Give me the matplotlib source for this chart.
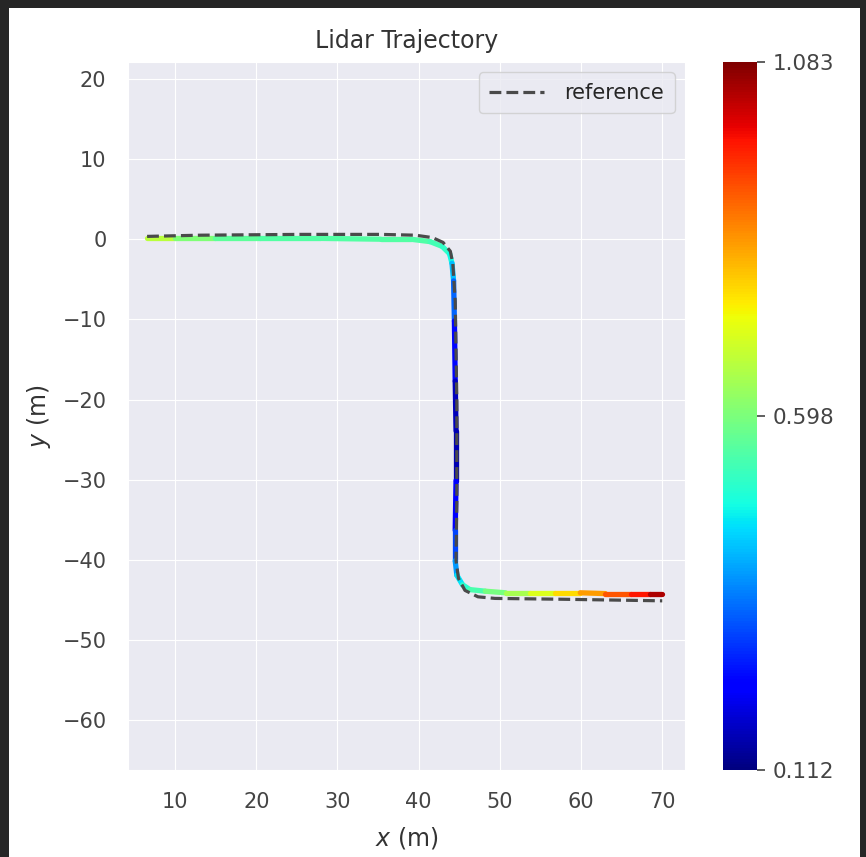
import numpy as np
import matplotlib
matplotlib.use('Agg')
import matplotlib.pyplot as plt
import seaborn as sns
from matplotlib.collections import LineCollection
from matplotlib.patches import Rectangle

# lidar trajectory (coloured by error)
traj_x = [6.55, 10.0, 14.9, 20.5, 27.9, 35.3, 39.0, 41.4, 42.9, 43.8, 44.1, 44.3,
          44.4, 44.5, 44.6, 44.6, 44.5, 44.5, 44.7, 45.4, 46.3, 48.2, 50.7, 53.7,
          56.8, 59.9, 63.0, 66.1, 68.5, 70.0]
traj_y = [0.1, 0.1, 0.1, 0.1, 0.1, 0.0, 0.0, -0.3, -0.9, -1.8, -3.0, -5.2,
          -10.2, -17.7, -23.9, -30.1, -36.3, -40.1, -41.9, -43.1, -43.7, -43.9, -44.1, -44.1,
          -44.1, -44.1, -44.2, -44.2, -44.2, -44.2]
traj_err = [0.70, 0.64, 0.57, 0.55, 0.55, 0.55, 0.55, 0.54, 0.52, 0.50, 0.45, 0.38,
            0.28, 0.20, 0.13, 0.18, 0.26, 0.34, 0.42, 0.48, 0.52, 0.56, 0.62, 0.68,
            0.74, 0.80, 0.87, 0.94, 1.00, 1.083]

# reference path
ref_x = [6.55, 13.1, 25.4, 35.3, 39.6, 41.7, 43.0, 43.9, 44.2, 44.5, 44.7, 44.7,
         44.6, 44.9, 45.7, 47.3, 49.4, 57.4, 70.0]
ref_y = [0.35, 0.5, 0.6, 0.6, 0.5, 0.2, -0.4, -1.5, -3.0, -7.7, -20.2, -32.6,
         -40.1, -42.3, -43.8, -44.6, -44.8, -44.9, -45.1]

err_min, err_max = 0.112, 1.083

sns.set_style('darkgrid')
plt.rcParams['font.family'] = ['DejaVu Sans']

fig = plt.figure(figsize=(8.66, 8.57), dpi=100, facecolor='#262626')
fig.patches.append(Rectangle((9 / 866, 0), (866 - 15) / 866, (857 - 8) / 857,
                             transform=fig.transFigure, facecolor='white',
                             edgecolor='none', zorder=-10))

ax = fig.add_axes([128 / 866, 87 / 857, 557 / 866, 708 / 857])
cax = fig.add_axes([723 / 866, 87 / 857, 34 / 866, 708 / 857])

pts = np.column_stack([traj_x, traj_y]).reshape(-1, 1, 2)
segs = np.concatenate([pts[:-1], pts[1:]], axis=1)
seg_err = (np.array(traj_err[:-1]) + np.array(traj_err[1:])) / 2
norm = plt.Normalize(err_min, err_max)
lc = LineCollection(segs, cmap='jet', norm=norm, linewidth=3.8, capstyle='round')
lc.set_array(seg_err)
ax.add_collection(lc)

ax.plot(ref_x, ref_y, '--', color='#4a4a4a', lw=2.3, label='reference')

ax.set_xlim(4.2, 72.8)
ax.set_ylim(-66.2, 22.1)
ax.set_xticks([10, 20, 30, 40, 50, 60, 70])
ax.set_yticks([20, 10, 0, -10, -20, -30, -40, -50, -60])
ax.tick_params(labelsize=15, colors='#444444', pad=12)
ax.set_title('Lidar Trajectory', fontsize=17, color='#333333', pad=10)
ax.set_xlabel('$x$ (m)', fontsize=17, color='#333333', labelpad=10)
ax.set_ylabel('$y$ (m)', fontsize=17, color='#333333', labelpad=7)
ax.legend(loc='upper right', fontsize=15, handlelength=2.6, handletextpad=1.0,
          borderpad=0.5)

cb = fig.colorbar(lc, cax=cax)
cb.set_ticks([err_min, (err_min + err_max) / 2, err_max])
cb.set_ticklabels(['0.112', '0.598', '1.083'])
cb.outline.set_visible(False)
cax.tick_params(labelsize=15.5, colors='#444444', length=6, width=1.2, pad=5, right=True)

fig.savefig('out.png', dpi=100, facecolor=fig.get_facecolor())
